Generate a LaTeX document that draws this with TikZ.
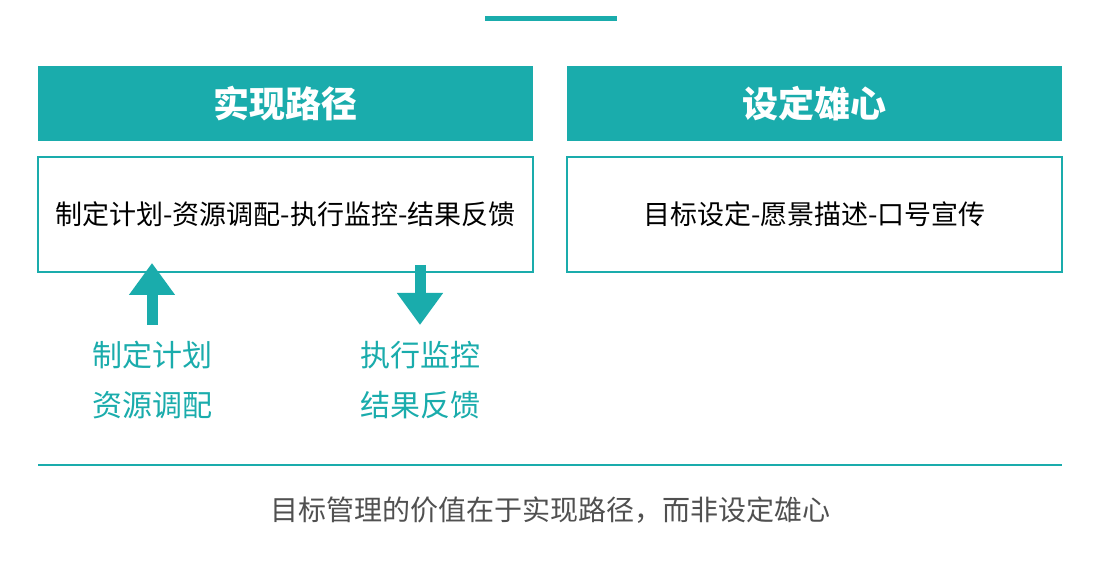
\documentclass[tikz,border=0pt]{standalone}
\usepackage{fontspec}
\setmainfont{Noto Sans CJK SC}
\usetikzlibrary{arrows.meta,positioning}
\definecolor{teal}{RGB}{26,172,172}
\definecolor{darkgray}{RGB}{80,80,80}
\tikzset{
  headbox/.style={fill=teal, draw=none, minimum width=495pt, minimum height=75pt, text=white, font=\bfseries\fontsize{36}{40}\selectfont},
  bodybox/.style={draw=teal, line width=1.2pt, minimum width=495pt, minimum height=115pt, font=\fontsize{27}{32}\selectfont},
  tealtext/.style={text=teal, align=center, font=\fontsize{30}{50}\selectfont},
  bigarrow/.style={teal, line width=11pt, -{Triangle[width=44pt,length=32pt]}}
}
\begin{document}
\begin{tikzpicture}[x=1pt,y=1pt]
  \useasboundingbox[fill=white] (0,0) rectangle (1101,573);
  \fill[teal] (485,552) rectangle (617,557);
  % headers
  \node[headbox] (pathhead) at (285.5,469.5) {实现路径};
  \node[headbox] (goalhead) at (814.5,469.5) {设定雄心};
  % bodies
  \node[bodybox] (pathbody) at (285.5,358.5) {制定计划-资源调配-执行监控-结果反馈};
  \node[bodybox] (goalbody) at (814.5,358.5) {目标设定-愿景描述-口号宣传};
  % side notes
  \node[tealtext] (plan) at (152,193) {制定计划\\资源调配};
  \node[tealtext] (exec) at (420,193) {执行监控\\结果反馈};
  \coordinate (upstart) at (152,248);
  \coordinate (upend) at (152,310);
  \coordinate (downstart) at (420,308);
  \coordinate (downend) at (420,248);
  \draw[bigarrow] (upstart) -- (upend);
  \draw[bigarrow] (downstart) -- (downend);
  % bottom
  \draw[teal, line width=1.2pt] (38,108) -- (1062,108);
  \node[text=darkgray, font=\fontsize{28}{32}\selectfont] (summary) at (550,63) {目标管理的价值在于实现路径，而非设定雄心};
\end{tikzpicture}
\end{document}
